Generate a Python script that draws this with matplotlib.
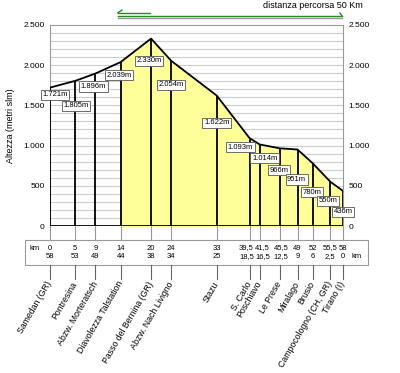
import matplotlib
matplotlib.use('Agg')
import matplotlib.pyplot as plt
from matplotlib.transforms import blended_transform_factory, Affine2D

plt.rcParams['font.family'] = ['Liberation Sans', 'DejaVu Sans']

# data
km = [0, 5, 9, 14, 20, 24, 33, 39.5, 41.5, 45.5, 49, 52, 55.5, 58]
km_left = ['58', '53', '49', '44', '38', '34', '25', '18,5', '16,5', '12,5', '9', '6', '2,5', '0']
km_done = ['0', '5', '9', '14', '20', '24', '33', '39,5', '41,5', '45,5', '49', '52', '55,5', '58']
quota = [1721, 1805, 1896, 2039, 2330, 2054, 1622, 1093, 1014, 966, 951, 780, 550, 436]
quota_lbl = ['1.721m', '1.805m', '1.896m', '2.039m', '2.330m', '2.054m', '1.622m',
             '1.093m', '1.014m', '966m', '951m', '780m', '550m', '436m']
localita = ['Samedan (GR)', 'Pontresina', 'Abzw. Morteratsch', 'Diavolezza Talstation',
            'Passo del Bernina (GR)', 'Abzw. Nach Livigno', 'Stazu', 'S. Carlo',
            'Poschiavo', 'Le Prese', 'Miralago', 'Brusio', 'Campocologno (CH, GR)',
            'Tirano (I)']
yticks = [0, 500, 1000, 1500, 2000, 2500]
ytick_lbl = ['0', '500', '1.000', '1.500', '2.000', '2.500']
start_yellow = 3  # from Diavolezza on

# label offsets (px, right / down) from the profile point
lbl_off = [(5, 7), (1, 25), (-2, 13), (-2, 13), (-2, 22), (0, 24), (0, 27),
           (-9, 9), (5, 14), (-1, 22), (-1, 30), (-1, 29), (-2, 19), (0, 21)]
# horizontal nudges for crowded table numbers (px)
tab_dx = [0, 0, 0, 0, 0, 0, 0, -3, 3, 1, 0, 0, 0, 0]

fig = plt.figure(figsize=(4, 3.73), dpi=100)
ax = fig.add_axes([0.125, 0.3941, 0.7325, 0.539])
ax.set_xlim(0, 58)
ax.set_ylim(0, 2500)

for y in range(100, 2500, 100):
    ax.axhline(y, color='#cccccc', lw=0.8, zorder=0)

ax.fill_between(km[start_yellow:], 0, quota[start_yellow:], color='#ffff99', zorder=1)
ax.plot(km, quota, color='black', lw=1.3, zorder=3)
ax.vlines(km, 0, quota, color='black', lw=1.3, zorder=3)
ax.axhline(0, color='black', lw=2, zorder=4)

for x, q, t, (dx, dy) in zip(km, quota, quota_lbl, lbl_off):
    ax.annotate(t, (x, q), xytext=(dx, -dy), textcoords='offset pixels',
                ha='center', va='center', fontsize=5.5, zorder=5,
                bbox=dict(boxstyle='square,pad=0.2', fc='white', ec='#555555', lw=0.6))

for s in ['left', 'right', 'top']:
    ax.spines[s].set_color('#999999')
    ax.spines[s].set_linewidth(0.8)
ax.spines['bottom'].set_visible(False)
ax.set_xticks([])
ax.set_yticks(yticks)
ax.set_yticklabels(ytick_lbl, fontsize=6)
ax.tick_params(axis='y', length=0, pad=4, labelright=True)
ax.set_ylabel('Altezza (metri slm)', fontsize=6.5, labelpad=6)

# table under the chart
tr = blended_transform_factory(ax.transData, fig.transFigure)
H = 373.0
def fy(py):
    return 1 - py / H

fig.patches.append(plt.Rectangle((25 / 400, fy(265)), 343 / 400, 25 / H,
                                 transform=fig.transFigure, fc='white',
                                 ec='#999999', lw=0.8))
for x, a, b, name, d in zip(km, km_done, km_left, localita, tab_dx):
    fig.add_artist(plt.Line2D([x, x], [fy(226), fy(240)], transform=tr,
                              color='#999999', lw=0.8))
    fig.add_artist(plt.Line2D([x, x], [fy(265), fy(279)], transform=tr,
                              color='#666666', lw=0.8))
    tr_d = tr + Affine2D().translate(d, 0)
    fig.text(x, fy(248), a, transform=tr_d, ha='center', va='center', fontsize=5.5)
    fig.text(x, fy(257), b, transform=tr_d, ha='center', va='center', fontsize=5.5)
    fig.text(x, fy(282), name, transform=tr, ha='right', va='center',
             rotation=60, rotation_mode='anchor', fontsize=6.3)
fig.text(35 / 400, fy(248), 'km', ha='center', va='center', fontsize=5.5)
fig.text(357 / 400, fy(257), 'km', ha='center', va='center', fontsize=5.5)

# distance bar at the top
fig.text(363 / 400, fy(6), 'distanza percorsa 50 Km', ha='right', va='center', fontsize=6.5)
fig.add_artist(plt.Line2D([118 / 400, 150 / 400], [fy(12.7), fy(12.7)],
                          color='#228B22', lw=1))
fig.add_artist(plt.Line2D([118 / 400, 122 / 400], [fy(12.7), fy(10)],
                          color='#228B22', lw=1))
fig.add_artist(plt.Line2D([118 / 400, 342 / 400], [fy(17.5), fy(17.5)],
                          color='#999999', lw=1))
fig.add_artist(plt.Line2D([118 / 400, 342 / 400], [fy(16), fy(16)],
                          color='#228B22', lw=1))
fig.add_artist(plt.Line2D([342 / 400, 340 / 400], [fy(16), fy(13)],
                          color='#228B22', lw=1))

fig.savefig('out.png', dpi=100)
